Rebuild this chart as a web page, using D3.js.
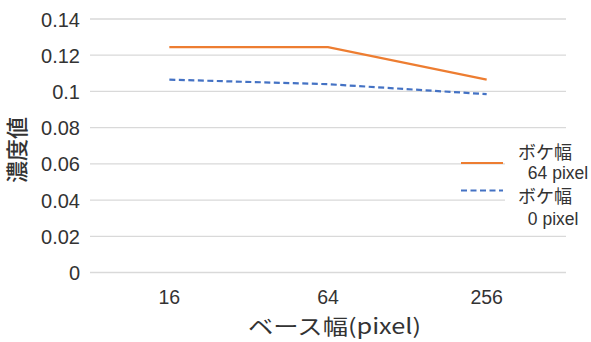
<!DOCTYPE html>
<html><head><meta charset="utf-8">
<script src="https://cdn.jsdelivr.net/npm/d3@7"></script>
<style>body{margin:0;background:#fff}svg{display:block}</style>
</head><body>
<script>
const categories = ["16", "64", "256"];
const series64 = [0.1245, 0.1245, 0.1065];
const series0 = [0.1065, 0.104, 0.0985];
const yTicks = [0, 0.02, 0.04, 0.06, 0.08, 0.1, 0.12, 0.14];
const seriesNames = [["ボケ幅", " 64 pixel"], ["ボケ幅", " 0 pixel"]];
const xTitle = "ベース幅(pixel)";
const yTitle = "濃度値";

const W = 591, H = 342;
const svg = d3.select("body").append("svg").attr("width", W).attr("height", H);
const x = d3.scaleBand().domain(categories).range([90, 566]);
const y = d3.scaleLinear().domain([0, 0.14]).range([272.5, 19]);
const jp = "'Noto Sans CJK JP', sans-serif";
const lat = "'Liberation Sans', Arial, sans-serif";

// gridlines
svg.append("g").selectAll("line").data(yTicks).join("line")
  .attr("x1", 90).attr("x2", 566)
  .attr("y1", d => y(d)).attr("y2", d => y(d))
  .attr("stroke", "#d9d9d9").attr("stroke-width", 1.3);

// y axis labels
const yAxis = d3.axisLeft(y).tickValues(yTicks).tickSize(0).tickPadding(0)
  .tickFormat(d => d === 0 ? "0" : String(+d.toFixed(2)));
const ga = svg.append("g").attr("transform", "translate(80,0)").call(yAxis);
ga.select(".domain").remove();
ga.selectAll("text").attr("font-family", lat).attr("font-size", 20).attr("fill", "#333").attr("dy", "0.35em");

// x axis labels
const xAxis = d3.axisBottom(x).tickSize(0).tickPadding(0);
const gx = svg.append("g").attr("transform", "translate(0,290)").call(xAxis);
gx.select(".domain").remove();
gx.selectAll("text").attr("font-family", lat).attr("font-size", 19.5).attr("fill", "#333").attr("dy", "0.72em");

// lines
const line = d3.line().x((d, i) => x(categories[i]) + x.bandwidth() / 2).y(d => y(d));
svg.append("path").datum(series0).attr("d", line).attr("fill", "none")
  .attr("stroke", "#4472C4").attr("stroke-width", 2.2).attr("stroke-dasharray", "6,3.5");
svg.append("path").datum(series64).attr("d", line).attr("fill", "none")
  .attr("stroke", "#ED7D31").attr("stroke-width", 2.2);

// legend
const leg = svg.append("g");
leg.append("rect").attr("x", 505).attr("y", 140).attr("width", 86).attr("height", 90).attr("fill", "#fff");
leg.append("line").attr("x1", 461).attr("x2", 503).attr("y1", 163).attr("y2", 163)
  .attr("stroke", "#ED7D31").attr("stroke-width", 2.2);
leg.append("line").attr("x1", 461).attr("x2", 503).attr("y1", 190.5).attr("y2", 190.5)
  .attr("stroke", "#4472C4").attr("stroke-width", 2.2).attr("stroke-dasharray", "6,3.5");
const lys = [[158.5, 179], [203, 225]];
seriesNames.forEach((nm, i) => {
  leg.append("text").attr("x", 518).attr("y", lys[i][0]).attr("font-family", jp)
    .attr("font-size", 18).attr("fill", "#333").text(nm[0]);
  leg.append("text").attr("x", 523).attr("y", lys[i][1]).attr("font-family", lat)
    .attr("font-size", 17.5).attr("fill", "#333").attr("xml:space", "preserve").text(nm[1]);
});

// axis titles
svg.append("text").attr("x", 248).attr("y", 334).attr("font-family", jp)
  .attr("font-size", 21).attr("fill", "#333")
  .attr("textLength", 173).attr("lengthAdjust", "spacingAndGlyphs").text(xTitle);
svg.append("text").attr("transform", "translate(25,150) rotate(-90)")
  .attr("text-anchor", "middle").attr("font-family", jp).attr("font-weight", 500)
  .attr("font-size", 22).attr("fill", "#333").text(yTitle);
</script>
</body></html>
